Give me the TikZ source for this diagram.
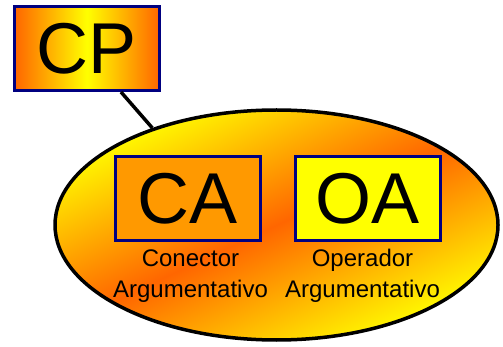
\documentclass[tikz,border=0pt]{standalone}
\usepackage{fontspec}
\setmainfont{Liberation Sans}
\usetikzlibrary{shapes.geometric}
\definecolor{ylw}{HTML}{FFFF00}
\definecolor{org}{HTML}{FF6600}
\definecolor{boxorg}{HTML}{FF9900}
\definecolor{navy}{HTML}{000080}
\tikzset{
  bigbox/.style={draw=navy, line width=3pt, minimum width=145pt, minimum height=84pt, inner sep=0pt,
    font=\fontsize{72}{80}\selectfont},
  caption/.style={align=center, inner sep=0pt, font=\fontsize{24}{30}\selectfont},
  link/.style={draw=black, line width=3.5pt}
}
\begin{document}
\begin{tikzpicture}[x=1pt,y=-1pt]
\useasboundingbox (0,0) rectangle (503,347);
\node[ellipse, draw=black, line width=3.5pt, minimum width=443pt, minimum height=230pt, inner sep=0pt,
  top color=ylw, bottom color=ylw, middle color=org, shading angle=25] (ell) at (276.5,225) {};
\node[bigbox, left color=org, right color=org, middle color=ylw] (CP) at (87,48.5) {CP};
\draw[link] (CP.308) -- (ell.142);
\node[bigbox, fill=boxorg] (CA) at (187.5,198.5) {CA};
\node[bigbox, fill=ylw] (OA) at (367.5,198.5) {OA};
\node[caption, anchor=base] (capCA) at (190.5,297) {Conector\\Argumentativo};
\node[caption, anchor=base] (capOA) at (362.5,297) {Operador\\Argumentativo};
\end{tikzpicture}
\end{document}
